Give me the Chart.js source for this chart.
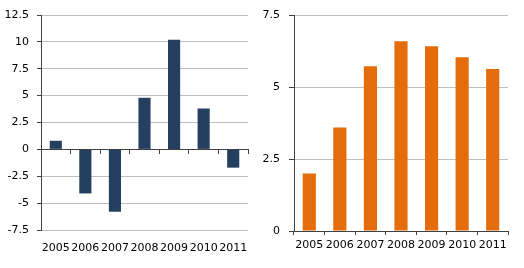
<!DOCTYPE html>
<html>
<head>
<meta charset="utf-8">
<script src="https://cdn.jsdelivr.net/npm/chart.js@4.4.1/dist/chart.umd.min.js"></script>
<style>
  html, body { margin: 0; padding: 0; background: #ffffff; }
  #wrap { position: relative; width: 524px; height: 268px; overflow: hidden; }
  .box { position: absolute; top: 0; height: 268px; }
  #b1 { left: 0; width: 262px; }
  #b2 { left: 262px; width: 262px; }
</style>
</head>
<body>
<div id="wrap">
  <div class="box" id="b1"><canvas id="c1"></canvas></div>
  <div class="box" id="b2"><canvas id="c2"></canvas></div>
</div>
<script>
const years = ['2005', '2006', '2007', '2008', '2009', '2010', '2011'];
const leftValues = [0.8, -4.1, -5.8, 4.8, 10.2, 3.8, -1.7];
const rightValues = [2.0, 3.6, 5.74, 6.61, 6.43, 6.05, 5.64];
const leftTickRange = [-7.5, 12.5, 2.5];
const rightTickRange = [0, 7.5, 2.5];

const FONT = { family: 'DejaVu Sans', size: 11 };
const GRID = '#BFBFBF';
const AXIS = '#404040';
const TEXT = '#000000';

Chart.defaults.font.family = 'DejaVu Sans';
Chart.defaults.color = TEXT;

function fmt(v) { return String(v); }

new Chart(document.getElementById('c1'), {
  type: 'bar',
  data: {
    labels: years,
    datasets: [{ data: leftValues, backgroundColor: '#243F60', barPercentage: 0.41, categoryPercentage: 1 }]
  },
  options: {
    responsive: true, maintainAspectRatio: false, animation: false,
    layout: { padding: { top: 15, right: 14, left: 0, bottom: 0 } },
    plugins: { legend: { display: false }, tooltip: { enabled: false } },
    scales: {
      x: {
        type: 'category', position: 'bottom', offset: true,
        grid: { display: false }, border: { display: false },
        ticks: { font: FONT, color: TEXT, padding: 4, maxRotation: 0, autoSkip: false },
        afterFit: s => { s.height = 38; }
      },
      x2: {
        type: 'category', axis: 'x', position: { y: 0 }, offset: true,
        grid: { display: true, offset: true, drawOnChartArea: false, drawTicks: true, tickLength: 4, color: AXIS, tickColor: AXIS },
        border: { display: true, color: AXIS, width: 1 },
        ticks: { display: false }
      },
      y: {
        min: leftTickRange[0], max: leftTickRange[1],
        ticks: { stepSize: leftTickRange[2], font: FONT, color: TEXT, padding: 8, callback: v => fmt(v) },
        grid: { color: GRID, tickColor: AXIS, tickLength: 4 },
        border: { display: true, color: AXIS },
        afterFit: s => { s.width = 41; }
      }
    }
  }
});

new Chart(document.getElementById('c2'), {
  type: 'bar',
  data: {
    labels: years,
    datasets: [{ data: rightValues, backgroundColor: '#E46C0A', barPercentage: 0.43, categoryPercentage: 1 }]
  },
  options: {
    responsive: true, maintainAspectRatio: false, animation: false,
    layout: { padding: { top: 15, right: 16, left: 0, bottom: 0 } },
    plugins: { legend: { display: false }, tooltip: { enabled: false } },
    scales: {
      x: {
        type: 'category', position: 'bottom', offset: true,
        grid: { display: true, offset: true, drawOnChartArea: false, drawTicks: true, tickLength: 4, color: AXIS, tickColor: AXIS },
        border: { display: true, color: AXIS },
        ticks: { font: FONT, color: TEXT, padding: 4, maxRotation: 0, autoSkip: false },
        afterFit: s => { s.height = 37; }
      },
      y: {
        min: rightTickRange[0], max: rightTickRange[1],
        ticks: { stepSize: rightTickRange[2], font: FONT, color: TEXT, padding: 9, callback: v => fmt(v) },
        grid: { color: GRID, tickColor: AXIS, tickLength: 5 },
        border: { display: true, color: AXIS },
        afterFit: s => { s.width = 32; }
      }
    }
  }
});
</script>
</body>
</html>
